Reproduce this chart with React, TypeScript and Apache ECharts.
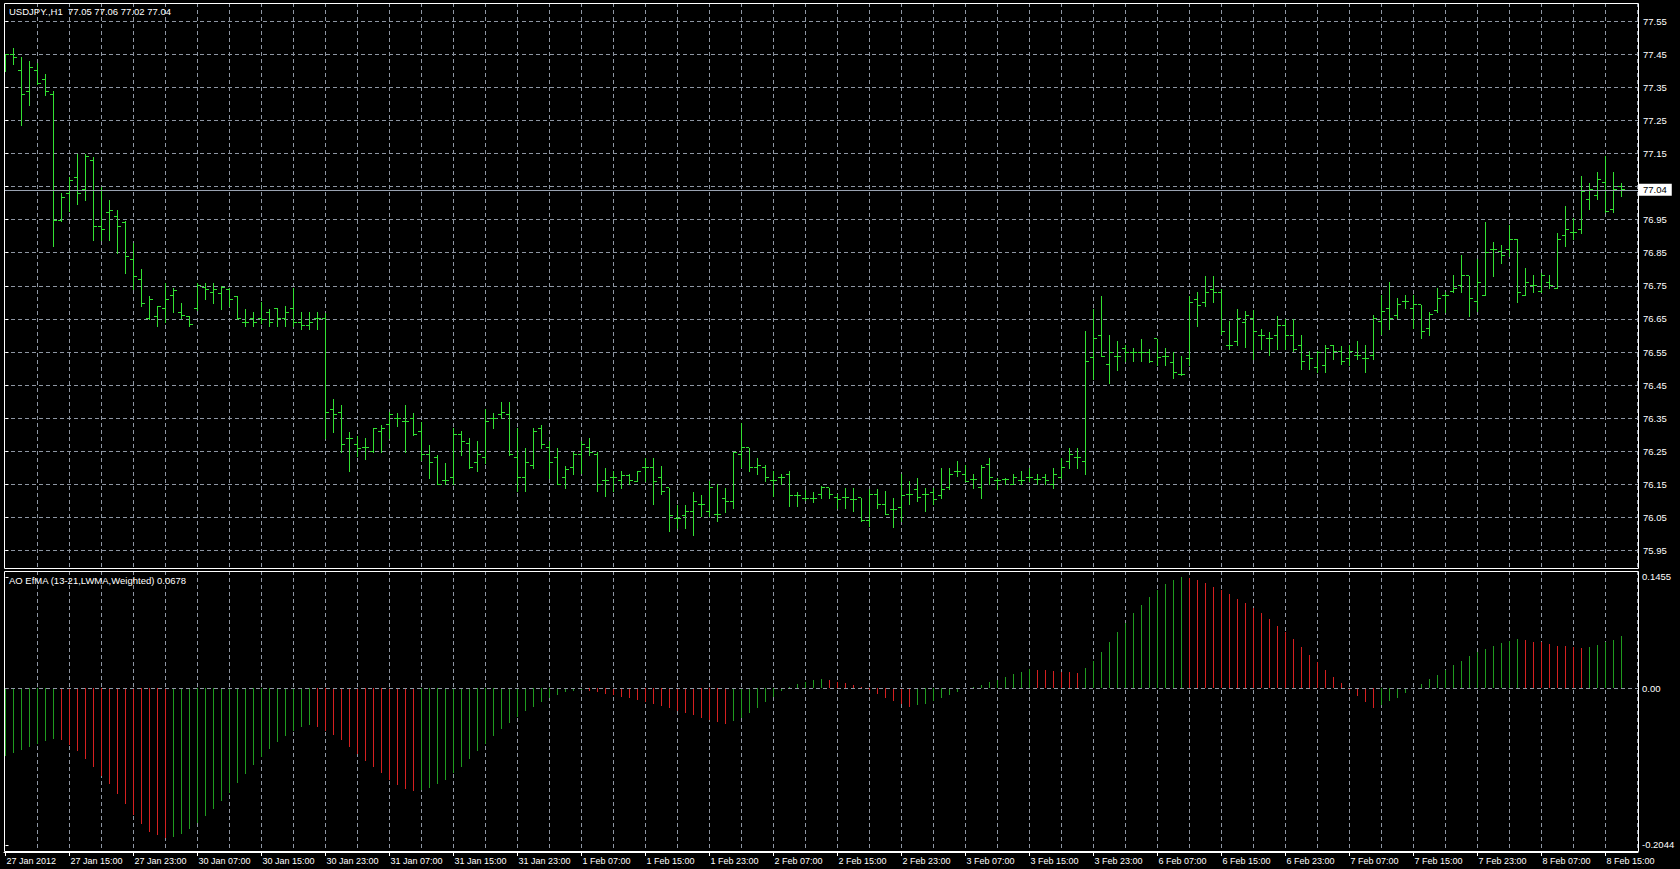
import React, { useEffect, useRef } from 'react';
import * as echarts from 'echarts';

const symbolTitle = 'USDJPY.,H1  77.05 77.06 77.02 77.04';
const indicatorTitle = 'AO EfMA (13-21,LWMA,Weighted) 0.0678';

const timeLabels = [
  '27 Jan 2012', '27 Jan 15:00', '27 Jan 23:00', '30 Jan 07:00', '30 Jan 15:00', '30 Jan 23:00',
  '31 Jan 07:00', '31 Jan 15:00', '31 Jan 23:00', '1 Feb 07:00', '1 Feb 15:00', '1 Feb 23:00',
  '2 Feb 07:00', '2 Feb 15:00', '2 Feb 23:00', '3 Feb 07:00', '3 Feb 15:00', '3 Feb 23:00',
  '6 Feb 07:00', '6 Feb 15:00', '6 Feb 23:00', '7 Feb 07:00', '7 Feb 15:00', '7 Feb 23:00',
  '8 Feb 07:00', '8 Feb 15:00',
];
const labelStep = 8;
const gridStep = 4;

const priceTicks = [77.55, 77.45, 77.35, 77.25, 77.15, 77.05, 76.95, 76.85, 76.75, 76.65, 76.55, 76.45, 76.35, 76.25, 76.15, 76.05, 75.95];
const aoTicks = [0.1455, 0, -0.2044];
const lastPrice = 77.04;

const opens = [
  77.43, 77.45, 77.40, 77.338, 77.40, 77.372, 77.327, 76.947, 77.03, 77.078,
  77.04, 77.13, 76.93, 76.97, 76.96, 76.94, 76.83, 76.77, 76.65, 76.657,
  76.68, 76.72, 76.67, 76.658, 76.68, 76.745, 76.73, 76.728, 76.74, 76.718,
  76.64, 76.65, 76.65, 76.67, 76.68, 76.65, 76.68, 76.638, 76.63, 76.65,
  76.65, 76.377, 76.367, 76.29, 76.27, 76.26, 76.25, 76.31, 76.33, 76.35,
  76.34, 76.35, 76.31, 76.24, 76.23, 76.162, 76.17, 76.30, 76.275, 76.216,
  76.23, 76.35, 76.36, 76.36, 76.23, 76.17, 76.206, 76.32, 76.26, 76.23,
  76.17, 76.20, 76.24, 76.26, 76.24, 76.162, 76.17, 76.162, 76.176, 76.16,
  76.20, 76.20, 76.17, 76.14, 76.048, 76.055, 76.068, 76.088, 76.068, 76.06,
  76.108, 76.098, 76.24, 76.26, 76.20, 76.20, 76.162, 76.17, 76.18, 76.116,
  76.108, 76.108, 76.118, 76.14, 76.11, 76.11, 76.103, 76.11, 76.04, 76.12,
  76.09, 76.074, 76.08, 76.12, 76.135, 76.12, 76.125, 76.115, 76.14, 76.19,
  76.18, 76.165, 76.14, 76.21, 76.162, 76.165, 76.15, 76.162, 76.17, 76.165,
  76.17, 76.15, 76.17, 76.22, 76.23, 76.22, 76.532, 76.60, 76.512, 76.537,
  76.56, 76.548, 76.55, 76.548, 76.59, 76.537, 76.517, 76.483, 76.53, 76.71,
  76.70, 76.74, 76.73, 76.57, 76.583, 76.64, 76.65, 76.60, 76.59, 76.60,
  76.63, 76.60, 76.57, 76.538, 76.502, 76.51, 76.571, 76.552, 76.53, 76.54,
  76.53, 76.54, 76.641, 76.682, 76.66, 76.702, 76.682, 76.692, 76.621, 76.674,
  76.722, 76.732, 76.752, 76.78, 76.702, 76.722, 76.86, 76.853, 76.861, 76.891,
  76.722, 76.752, 76.732, 76.76, 76.742, 76.901, 76.911, 76.921, 77.012, 77.022,
  77.062, 76.982, 77.05,
];
const highs = [
  77.45, 77.468, 77.44, 77.43, 77.423, 77.39, 77.338, 77.03, 77.078, 77.148,
  77.148, 77.14, 77.048, 77.008, 76.98, 76.947, 76.879, 76.80, 76.718, 76.69,
  76.758, 76.742, 76.698, 76.66, 76.758, 76.758, 76.758, 76.75, 76.743, 76.72,
  76.68, 76.67, 76.70, 76.68, 76.682, 76.69, 76.742, 76.672, 76.672, 76.672,
  76.668, 76.408, 76.39, 76.307, 76.297, 76.29, 76.32, 76.33, 76.37, 76.367,
  76.39, 76.367, 76.34, 76.27, 76.24, 76.216, 76.32, 76.31, 76.29, 76.28,
  76.377, 76.367, 76.398, 76.398, 76.32, 76.26, 76.32, 76.33, 76.28, 76.26,
  76.206, 76.247, 76.28, 76.29, 76.247, 76.20, 76.19, 76.19, 76.18, 76.19,
  76.23, 76.23, 76.206, 76.14, 76.088, 76.088, 76.128, 76.118, 76.16, 76.15,
  76.14, 76.247, 76.335, 76.26, 76.23, 76.21, 76.19, 76.18, 76.19, 76.128,
  76.133, 76.128, 76.145, 76.14, 76.12, 76.14, 76.14, 76.11, 76.135, 76.135,
  76.13, 76.11, 76.18, 76.16, 76.17, 76.14, 76.14, 76.20, 76.20, 76.22,
  76.21, 76.18, 76.21, 76.23, 76.17, 76.17, 76.18, 76.19, 76.20, 76.18,
  76.18, 76.20, 76.23, 76.26, 76.26, 76.613, 76.68, 76.72, 76.60, 76.583,
  76.57, 76.562, 76.59, 76.56, 76.59, 76.562, 76.55, 76.537, 76.72, 76.73,
  76.78, 76.78, 76.74, 76.643, 76.68, 76.673, 76.678, 76.62, 76.61, 76.66,
  76.65, 76.65, 76.60, 76.553, 76.553, 76.57, 76.571, 76.569, 76.571, 76.584,
  76.571, 76.662, 76.722, 76.762, 76.712, 76.722, 76.722, 76.692, 76.672, 76.742,
  76.732, 76.782, 76.843, 76.78, 76.83, 76.942, 76.881, 76.873, 76.934, 76.891,
  76.803, 76.782, 76.79, 76.782, 76.911, 76.99, 76.954, 77.083, 77.062, 77.095,
  77.141, 77.093, 77.06,
];
const lows = [
  77.40, 77.42, 77.237, 77.297, 77.36, 77.327, 76.869, 76.947, 76.977, 76.998,
  77.008, 76.887, 76.887, 76.887, 76.85, 76.79, 76.74, 76.688, 76.65, 76.63,
  76.64, 76.67, 76.652, 76.63, 76.678, 76.71, 76.698, 76.68, 76.69, 76.65,
  76.63, 76.63, 76.638, 76.63, 76.628, 76.628, 76.63, 76.62, 76.62, 76.62,
  76.29, 76.307, 76.247, 76.19, 76.236, 76.226, 76.247, 76.247, 76.29, 76.327,
  76.247, 76.30, 76.224, 76.17, 76.15, 76.15, 76.15, 76.24, 76.20, 76.19,
  76.216, 76.32, 76.35, 76.24, 76.13, 76.13, 76.20, 76.26, 76.17, 76.15,
  76.14, 76.18, 76.184, 76.24, 76.13, 76.116, 76.13, 76.14, 76.15, 76.16,
  76.16, 76.09, 76.12, 76.008, 76.018, 76.018, 75.998, 76.055, 76.055, 76.038,
  76.068, 76.078, 76.204, 76.19, 76.18, 76.16, 76.114, 76.15, 76.086, 76.086,
  76.103, 76.098, 76.108, 76.108, 76.08, 76.08, 76.07, 76.04, 76.024, 76.08,
  76.06, 76.02, 76.04, 76.09, 76.10, 76.07, 76.09, 76.11, 76.135, 76.175,
  76.16, 76.14, 76.11, 76.15, 76.135, 76.15, 76.15, 76.15, 76.16, 76.15,
  76.15, 76.14, 76.17, 76.20, 76.20, 76.18, 76.467, 76.537, 76.457, 76.497,
  76.522, 76.522, 76.522, 76.52, 76.512, 76.512, 76.47, 76.48, 76.51, 76.63,
  76.69, 76.70, 76.603, 76.56, 76.57, 76.566, 76.53, 76.56, 76.54, 76.56,
  76.56, 76.553, 76.50, 76.50, 76.49, 76.49, 76.528, 76.514, 76.511, 76.528,
  76.49, 76.53, 76.604, 76.619, 76.652, 76.682, 76.621, 76.591, 76.60, 76.672,
  76.672, 76.73, 76.73, 76.66, 76.675, 76.722, 76.78, 76.82, 76.84, 76.70,
  76.722, 76.73, 76.73, 76.742, 76.742, 76.871, 76.891, 76.911, 76.982, 77.012,
  76.972, 76.972, 77.02,
];
const closes = [
  77.45, 77.44, 77.328, 77.41, 77.36, 77.338, 76.948, 77.018, 77.068, 77.03,
  77.14, 76.93, 76.92, 76.978, 76.93, 76.84, 76.778, 76.698, 76.708, 76.688,
  76.71, 76.735, 76.66, 76.632, 76.75, 76.74, 76.74, 76.745, 76.71, 76.65,
  76.64, 76.64, 76.648, 76.64, 76.65, 76.668, 76.64, 76.63, 76.64, 76.65,
  76.367, 76.36, 76.27, 76.29, 76.257, 76.26, 76.32, 76.32, 76.36, 76.35,
  76.34, 76.30, 76.24, 76.216, 76.15, 76.162, 76.30, 76.28, 76.20, 76.24,
  76.34, 76.35, 76.367, 76.24, 76.17, 76.216, 76.31, 76.27, 76.216, 76.15,
  76.196, 76.24, 76.27, 76.247, 76.15, 76.162, 76.17, 76.176, 76.162, 76.19,
  76.20, 76.16, 76.13, 76.055, 76.048, 76.068, 76.098, 76.088, 76.14, 76.06,
  76.098, 76.247, 76.26, 76.20, 76.206, 76.17, 76.162, 76.17, 76.116, 76.116,
  76.108, 76.108, 76.14, 76.118, 76.105, 76.11, 76.103, 76.04, 76.12, 76.09,
  76.06, 76.074, 76.115, 76.12, 76.11, 76.12, 76.105, 76.135, 76.18, 76.19,
  76.16, 76.165, 76.20, 76.17, 76.162, 76.165, 76.17, 76.162, 76.17, 76.165,
  76.162, 76.18, 76.20, 76.24, 76.23, 76.52, 76.59, 76.537, 76.55, 76.537,
  76.548, 76.548, 76.55, 76.522, 76.532, 76.537, 76.487, 76.483, 76.70, 76.69,
  76.73, 76.73, 76.613, 76.57, 76.65, 76.66, 76.613, 76.60, 76.59, 76.63,
  76.60, 76.558, 76.52, 76.53, 76.55, 76.56, 76.552, 76.522, 76.552, 76.538,
  76.53, 76.65, 76.672, 76.652, 76.692, 76.702, 76.692, 76.612, 76.662, 76.712,
  76.722, 76.742, 76.782, 76.712, 76.76, 76.85, 76.86, 76.843, 76.891, 76.73,
  76.76, 76.752, 76.78, 76.752, 76.891, 76.921, 76.911, 77.034, 77.042, 77.072,
  76.974, 77.042, 77.04,
];

const aoValues = [
  -0.088, -0.084, -0.080, -0.076, -0.072, -0.069, -0.066,
  -0.068, -0.074, -0.082, -0.092, -0.103, -0.114, -0.125, -0.138, -0.151, -0.165, -0.177, -0.187, -0.192, -0.195,
  -0.194, -0.190, -0.184, -0.176, -0.167, -0.158, -0.147, -0.136, -0.124, -0.112, -0.100, -0.089, -0.079, -0.070, -0.062, -0.056, -0.051, -0.048,
  -0.050, -0.055, -0.061, -0.068, -0.077, -0.086, -0.095, -0.103, -0.111, -0.119, -0.126, -0.131, -0.134,
  -0.133, -0.130, -0.125, -0.119, -0.111, -0.102, -0.092, -0.082, -0.072, -0.062, -0.053, -0.045, -0.037, -0.030, -0.024, -0.018, -0.013, -0.009, -0.005, -0.003, -0.002,
  -0.003, -0.005, -0.007, -0.009, -0.011, -0.013, -0.015, -0.018, -0.020, -0.023, -0.026, -0.029, -0.032, -0.035, -0.038, -0.041, -0.044, -0.046,
  -0.043, -0.038, -0.032, -0.025, -0.018, -0.011, -0.004, 0.002, 0.006, 0.009, 0.011, 0.012,
  0.011, 0.009, 0.007, 0.005, 0.002, -0.002, -0.007, -0.012, -0.017, -0.021, -0.024,
  -0.022, -0.020, -0.017, -0.013, -0.009, -0.005, -0.001, 0.002, 0.005, 0.008, 0.011, 0.015, 0.019, 0.022, 0.025,
  0.024, 0.0235, 0.023, 0.022, 0.021, 0.020,
  0.026, 0.036, 0.048, 0.060, 0.073, 0.086, 0.098, 0.109, 0.119, 0.128, 0.136, 0.142, 0.1455,
  0.144, 0.141, 0.137, 0.133, 0.128, 0.123, 0.117, 0.111, 0.105, 0.098, 0.090, 0.082, 0.073, 0.064, 0.054, 0.044, 0.034, 0.024, 0.015, 0.007, -0.002, -0.010, -0.018, -0.025,
  -0.022, -0.017, -0.012, -0.006, 0.000, 0.006, 0.012, 0.018, 0.024, 0.030, 0.036, 0.042, 0.047, 0.052, 0.056, 0.059, 0.062, 0.065,
  0.063, 0.061, 0.060, 0.058, 0.056, 0.0548, 0.0544, 0.0527,
  0.0545, 0.057, 0.060, 0.063, 0.0678,
];

const FONT = 'Tahoma, "Liberation Sans", Arial, sans-serif';
const BAR_COLOR = '#32e032';
const AO_UP = '#1f9a1f';
const AO_DOWN = '#d42020';
const GRID_COLOR = '#8e96a3';
const GRID_DASH = [4, 3];

// layout (pixels)
const PANE_L = 4;
const PANE_R = 1638;
const MAIN_T = 3;
const MAIN_B = 568;
const SUB_T = 571;
const SUB_B = 852;
const BAR_PX = 8;
const X_MIN = -1.5 / BAR_PX;
const X_MAX = X_MIN + (PANE_R - PANE_L) / BAR_PX;
const PRICE_PX = 331;
const PRICE_REF = 77.55;
const PRICE_REF_Y = 21;
const AO_PX = 766;
const AO_ZERO_Y = 688.4;

export default function App() {
  const ref = useRef<HTMLDivElement>(null);

  useEffect(() => {
    document.body.style.margin = '0';
    document.body.style.background = '#000';
    const chart = echarts.init(ref.current!, null, { renderer: 'svg' });

    const n = opens.length;
    const ohlc = opens.map((o, i) => [i, o, highs[i], lows[i], closes[i]]);
    const aoData = aoValues.map((v, i) => [i, v, i === 0 || v >= aoValues[i - 1] ? 1 : 0]);
    const gridTicks: number[] = [];
    for (let k = gridStep; k <= n + 1; k += gridStep) gridTicks.push(k);
    const labelTicks = timeLabels.map((_, k) => k * labelStep);

    const yMaxMain = PRICE_REF + (PRICE_REF_Y - MAIN_T) / PRICE_PX;
    const yMinMain = PRICE_REF - (MAIN_B - PRICE_REF_Y) / PRICE_PX;
    const yMaxAo = (AO_ZERO_Y - SUB_T) / AO_PX;
    const yMinAo = -(SUB_B - AO_ZERO_Y) / AO_PX;

    const labelText = { color: '#ffffff', fontFamily: FONT, fontSize: 9.5 };

    const option: any = {
      animation: false,
      backgroundColor: '#000000',
      textStyle: { fontFamily: FONT },
      grid: [
        { left: PANE_L, right: 1680 - PANE_R, top: MAIN_T, height: MAIN_B - MAIN_T },
        { left: PANE_L, right: 1680 - PANE_R, top: SUB_T, height: SUB_B - SUB_T },
      ],
      xAxis: [
        {
          type: 'value', gridIndex: 0, min: X_MIN, max: X_MAX, position: 'bottom',
          axisLine: { show: false }, axisLabel: { show: false },
          axisTick: { show: false, customValues: gridTicks },
          splitLine: { show: true, lineStyle: { color: GRID_COLOR, type: GRID_DASH, width: 1 } },
        },
        {
          type: 'value', gridIndex: 1, min: X_MIN, max: X_MAX, position: 'top',
          axisLine: { show: false }, axisLabel: { show: false },
          axisTick: { show: false, customValues: gridTicks },
          splitLine: { show: true, lineStyle: { color: GRID_COLOR, type: GRID_DASH, width: 1 } },
        },
        {
          type: 'value', gridIndex: 1, min: X_MIN, max: X_MAX, position: 'bottom',
          axisLine: { show: true, lineStyle: { color: '#ffffff', width: 1 } },
          axisTick: { show: true, length: 4, inside: false, lineStyle: { color: '#ffffff' }, customValues: labelTicks },
          axisLabel: {
            show: true, customValues: labelTicks, ...labelText, fontSize: 9,
            align: 'left', margin: 4, padding: [0, 0, 0, 1],
            formatter: (v: number) => timeLabels[Math.round(v / labelStep)] ?? '',
          },
          splitLine: { show: false },
        },
      ],
      yAxis: [
        {
          type: 'value', gridIndex: 0, position: 'right', min: yMinMain, max: yMaxMain,
          axisLine: { show: false },
          axisTick: { show: true, length: 3, lineStyle: { color: '#ffffff' }, customValues: priceTicks },
          axisLabel: { show: true, customValues: priceTicks, ...labelText, margin: 5, formatter: (v: number) => v.toFixed(2) },
          splitLine: { show: true, lineStyle: { color: GRID_COLOR, type: GRID_DASH, width: 1 } },
        },
        {
          type: 'value', gridIndex: 1, position: 'right', min: yMinAo, max: yMaxAo,
          axisLine: { show: false },
          axisTick: { show: true, length: 3, lineStyle: { color: '#ffffff' }, customValues: aoTicks },
          axisLabel: {
            show: true, customValues: aoTicks, ...labelText, margin: 4,
            formatter: (v: number) => (Math.abs(v) < 1e-9 ? '0.00' : v.toFixed(4)),
          },
          splitLine: { show: false },
        },
      ],
      series: [
        {
          type: 'custom', name: 'USDJPY', xAxisIndex: 0, yAxisIndex: 0, clip: true,
          data: ohlc,
          encode: { x: 0, y: [1, 2, 3, 4] },
          renderItem: (params: any, api: any) => {
            const i = api.value(0);
            const o = api.coord([i, api.value(1)]);
            const h = api.coord([i, api.value(2)]);
            const l = api.coord([i, api.value(3)]);
            const c = api.coord([i, api.value(4)]);
            const x = o[0];
            const yh = Math.round(h[1]);
            const yl = Math.round(l[1]) + 1;
            const yo = Math.round(o[1] - 0.5) + 0.5;
            const yc = Math.round(c[1] - 0.5) + 0.5;
            const st = { stroke: BAR_COLOR, lineWidth: 1 };
            return {
              type: 'group',
              children: [
                { type: 'line', shape: { x1: x, y1: yh, x2: x, y2: yl }, style: st },
                { type: 'line', shape: { x1: x - 3.5, y1: yo, x2: x - 0.5, y2: yo }, style: st },
                { type: 'line', shape: { x1: x + 0.5, y1: yc, x2: x + 3.5, y2: yc }, style: st },
              ],
            };
          },
          z: 3,
        },
        {
          type: 'line', name: 'last', xAxisIndex: 0, yAxisIndex: 0, data: [],
          markLine: {
            silent: true, symbol: 'none', animation: false,
            lineStyle: { color: '#9aa3b2', type: 'solid', width: 1 },
            label: {
              show: true, position: 'end', distance: 1, formatter: lastPrice.toFixed(2),
              color: '#000000', backgroundColor: '#ffffff', padding: [1, 5, 1, 4],
              fontFamily: FONT, fontSize: 9.5,
            },
            data: [{ yAxis: lastPrice }],
          },
          z: 2,
        },
        {
          type: 'custom', name: 'AO', xAxisIndex: 1, yAxisIndex: 1, clip: true,
          data: aoData,
          encode: { x: 0, y: 1 },
          renderItem: (params: any, api: any) => {
            const i = api.value(0);
            const p0 = api.coord([i, 0]);
            const p1 = api.coord([i, api.value(1)]);
            const up = api.value(2) === 1;
            return {
              type: 'line',
              shape: { x1: p0[0], y1: Math.round(p0[1]), x2: p0[0], y2: Math.round(p1[1]) },
              style: { stroke: up ? AO_UP : AO_DOWN, lineWidth: 1 },
            };
          },
          markLine: {
            silent: true, symbol: 'none', animation: false,
            lineStyle: { color: GRID_COLOR, type: GRID_DASH, width: 1 },
            label: { show: false },
            data: [{ yAxis: 0 }],
          },
          z: 3,
        },
      ],
      graphic: [
        {
          type: 'rect', z: 100, silent: true,
          shape: { x: PANE_L + 0.5, y: MAIN_T + 0.5, width: PANE_R - PANE_L, height: MAIN_B - MAIN_T },
          style: { fill: 'none', stroke: '#ffffff', lineWidth: 1 },
        },
        {
          type: 'rect', z: 100, silent: true,
          shape: { x: PANE_L + 0.5, y: SUB_T + 0.5, width: PANE_R - PANE_L, height: SUB_B - SUB_T - 1 },
          style: { fill: 'none', stroke: '#ffffff', lineWidth: 1 },
        },
        {
          type: 'text', left: 9, top: 6, z: 100,
          style: { text: symbolTitle, fill: '#ffffff', font: `9.5px ${FONT}` },
        },
        {
          type: 'text', left: 9, top: 575, z: 100,
          style: { text: indicatorTitle, fill: '#ffffff', font: `9.5px ${FONT}` },
        },
      ],
    };

    chart.setOption(option);
    return () => chart.dispose();
  }, []);

  return <div ref={ref} style={{ width: 1680, height: 869, background: '#000' }} />;
}
